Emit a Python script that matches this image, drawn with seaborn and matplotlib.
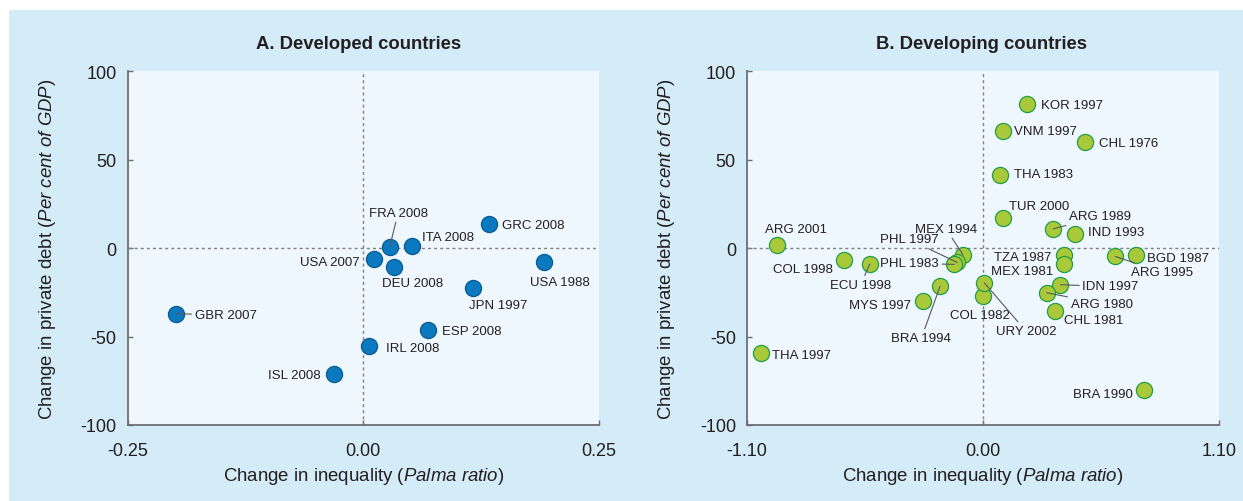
import matplotlib
matplotlib.use("Agg")
import matplotlib.pyplot as plt
import seaborn as sns
import pandas as pd
from matplotlib.patches import Rectangle

# ---- data -----------------------------------------------------------------
dev_labels = ["GBR 2007", "ISL 2008", "IRL 2008", "ESP 2008", "JPN 1997", "USA 1988",
              "GRC 2008", "ITA 2008", "FRA 2008", "USA 2007", "DEU 2008"]
dev_x = [-0.199, -0.031, 0.006, 0.069, 0.116, 0.192, 0.133, 0.052, 0.028, 0.011, 0.032]
dev_y = [-37.1, -71.0, -55.6, -46.1, -22.6, -7.7, 13.7, 1.1, 0.8, -6.2, -10.7]

dvg_labels = ["KOR 1997", "VNM 1997", "CHL 1976", "THA 1983", "TUR 2000", "ARG 1989",
              "IND 1993", "ARG 2001", "COL 1998", "ECU 1998", "MEX 1994", "PHL 1997",
              "PHL 1983", "MYS 1997", "BRA 1994", "COL 1982", "URY 2002", "THA 1997",
              "TZA 1987", "MEX 1981", "IDN 1997", "ARG 1980", "CHL 1981", "ARG 1995",
              "BGD 1987", "BRA 1990"]
dvg_x = [0.204, 0.091, 0.476, 0.078, 0.091, 0.328, 0.430, -0.960, -0.647, -0.528, -0.093,
         -0.120, -0.135, -0.278, -0.200, 0.000, 0.006, -1.034, 0.378, 0.378, 0.361, 0.297,
         0.337, 0.617, 0.714, 0.749]
dvg_y = [81.5, 66.1, 60.3, 41.2, 17.1, 10.9, 8.1, 1.5, -6.8, -9.0, -3.8, -8.1, -9.2,
         -30.1, -21.5, -27.3, -19.6, -59.3, -3.8, -9.2, -20.7, -25.2, -35.5, -4.7, -3.8,
         -80.2]

dev_xticks = [-0.25, 0.0, 0.25]
dev_xticklabels = ["-0.25", "0.00", "0.25"]
dvg_xticks = [-1.10, 0.0, 1.10]
dvg_xticklabels = ["-1.10", "0.00", "1.10"]
yticks = [-100, -50, 0, 50, 100]
yticklabels = ["-100", "-50", "0", "50", "100"]

# ---- label placement (pixel offsets: dx right, dy down; alignment; leader line)
dev_place = {
    "GBR 2007": (19, 1, "left", True),
    "ISL 2008": (-14, 1.7, "right", False),
    "IRL 2008": (16.5, 1.3, "left", False),
    "ESP 2008": (13.5, 1, "left", False),
    "JPN 1997": (25, 16.7, "center", False),
    "USA 1988": (16, 20.3, "center", False),
    "GRC 2008": (13.5, 1.3, "left", False),
    "ITA 2008": (9.5, -9, "left", False),
    "FRA 2008": (8.3, -33.7, "center", True),
    "USA 2007": (-14.3, 2.4, "right", False),
    "DEU 2008": (19, 16, "center", False),
}
dvg_place = {
    "KOR 1997": (14, 1, "left", False),
    "VNM 1997": (11, -0.7, "left", False),
    "CHL 1976": (14, 1.3, "left", False),
    "THA 1983": (14, -1, "left", False),
    "TUR 2000": (6, -11.7, "left", False),
    "ARG 1989": (16, -12.7, "left", True),
    "IND 1993": (13, -1.7, "left", False),
    "ARG 2001": (18.7, -16.7, "center", False),
    "COL 1998": (-11.5, 8.7, "right", False),
    "ECU 1998": (-9, 20.7, "center", True),
    "MEX 1994": (-17, -26, "center", True),
    "PHL 1997": (-48, -23, "center", True),
    "PHL 1983": (-15, -1.3, "right", True),
    "MYS 1997": (-12, 4, "right", False),
    "BRA 1994": (-18.7, 52, "center", True),
    "COL 1982": (-2.8, 18.3, "center", False),
    "URY 2002": (41.7, 48.3, "center", True),
    "THA 1997": (11, 1.7, "left", False),
    "TZA 1987": (-12.7, 2.3, "right", False),
    "MEX 1981": (-11, 6.7, "right", False),
    "IDN 1997": (22, 1.7, "left", True),
    "ARG 1980": (24, 11, "left", True),
    "CHL 1981": (9, 8.7, "left", False),
    "ARG 1995": (15.5, 15.7, "left", True),
    "BGD 1987": (10.7, 3, "left", False),
    "BRA 1990": (-10.8, 3.7, "right", False),
}

# ---- style ------------------------------------------------------------------
sns.set_theme(style="white")
TEXT = "#231f20"
SPINE = "#6d6e71"
plt.rcParams["font.family"] = ["Liberation Sans", "DejaVu Sans"]
plt.rcParams["axes.unicode_minus"] = False
plt.rcParams["mathtext.fontset"] = "custom"
plt.rcParams["mathtext.rm"] = "Liberation Sans"
plt.rcParams["mathtext.it"] = "Liberation Sans:italic"

W, H = 1243, 502
fig = plt.figure(figsize=(W / 100, H / 100), dpi=100, facecolor="white")
fig.patches.append(Rectangle((9 / W, 0), 1 - 9 / W, 1 - 11 / H, transform=fig.transFigure,
                             facecolor="#d4ebf8", edgecolor="none", zorder=-10))


def px_axes(x0, x1, top, bottom):
    return fig.add_axes([x0 / W, 1 - bottom / H, (x1 - x0) / W, (bottom - top) / H])


ax_a = px_axes(127.7, 599, 72.3, 426)
ax_b = px_axes(747, 1219, 72.3, 426)


def draw_panel(ax, labels, xs, ys, place, fill, edge, xlim, xticks, xticklabels, title, title_x):
    df = pd.DataFrame({"label": labels, "x": xs, "y": ys})
    ax.set_facecolor("#eef7fd")
    ax.axhline(0, color="#808285", lw=1.0, ls=(0, (2.2, 2.2)), zorder=1)
    ax.axvline(0, color="#808285", lw=1.0, ls=(0, (2.2, 2.2)), zorder=1)
    sns.scatterplot(data=df, x="x", y="y", ax=ax, s=135, color=fill, edgecolor=edge,
                    linewidth=0.9, zorder=3, legend=False)
    for lab, x, y in zip(labels, xs, ys):
        dx, dy, ha, line = place[lab]
        kw = dict(textcoords="offset pixels", ha=ha, va="center", fontsize=9.5,
                  color=TEXT, zorder=5)
        if line:
            kw["arrowprops"] = dict(arrowstyle="-", color="#58595b", lw=0.8,
                                    shrinkA=0, shrinkB=0)
        ax.annotate(lab, xy=(x, y), xytext=(dx, -dy), **kw)

    ax.set_xlim(*xlim)
    ax.set_ylim(-100, 100)
    ax.set_xticks(xticks)
    ax.set_xticklabels(xticklabels)
    ax.set_yticks(yticks)
    ax.set_yticklabels(yticklabels)
    ax.set_xlabel("")
    ax.set_ylabel("")
    ax.tick_params(axis="both", direction="in", length=3.6, width=1, color=SPINE,
                   labelsize=13, labelcolor=TEXT, left=True, bottom=True)
    ax.tick_params(axis="x", pad=12)
    ax.tick_params(axis="y", pad=8)
    for s in ("top", "right"):
        ax.spines[s].set_visible(False)
    for s in ("left", "bottom"):
        ax.spines[s].set_color(SPINE)
        ax.spines[s].set_linewidth(1.3)

    ax.text(0.5, -0.143, r"Change in inequality ($\it{Palma\ ratio}$)", transform=ax.transAxes,
            ha="center", va="center", fontsize=13.4, color=TEXT)
    ax.text(-0.171, 0.5, r"Change in private debt ($\it{Per\ cent\ of\ GDP}$)",
            transform=ax.transAxes, ha="center", va="center", rotation=90,
            fontsize=13.4, color=TEXT)
    ax.text(title_x, 1.08, title, transform=ax.transAxes, ha="center", va="center",
            fontsize=13.3, fontweight="bold", color=TEXT)


draw_panel(ax_a, dev_labels, dev_x, dev_y, dev_place, "#0b79bf", "#0b5a8f",
           (-0.25, 0.25), dev_xticks, dev_xticklabels, "A. Developed countries", 0.49)
draw_panel(ax_b, dvg_labels, dvg_x, dvg_y, dvg_place, "#a9c93a", "#1f9e46",
           (-1.10, 1.10), dvg_xticks, dvg_xticklabels, "B. Developing countries", 0.496)

fig.savefig("out.png", dpi=100, facecolor=fig.get_facecolor())
